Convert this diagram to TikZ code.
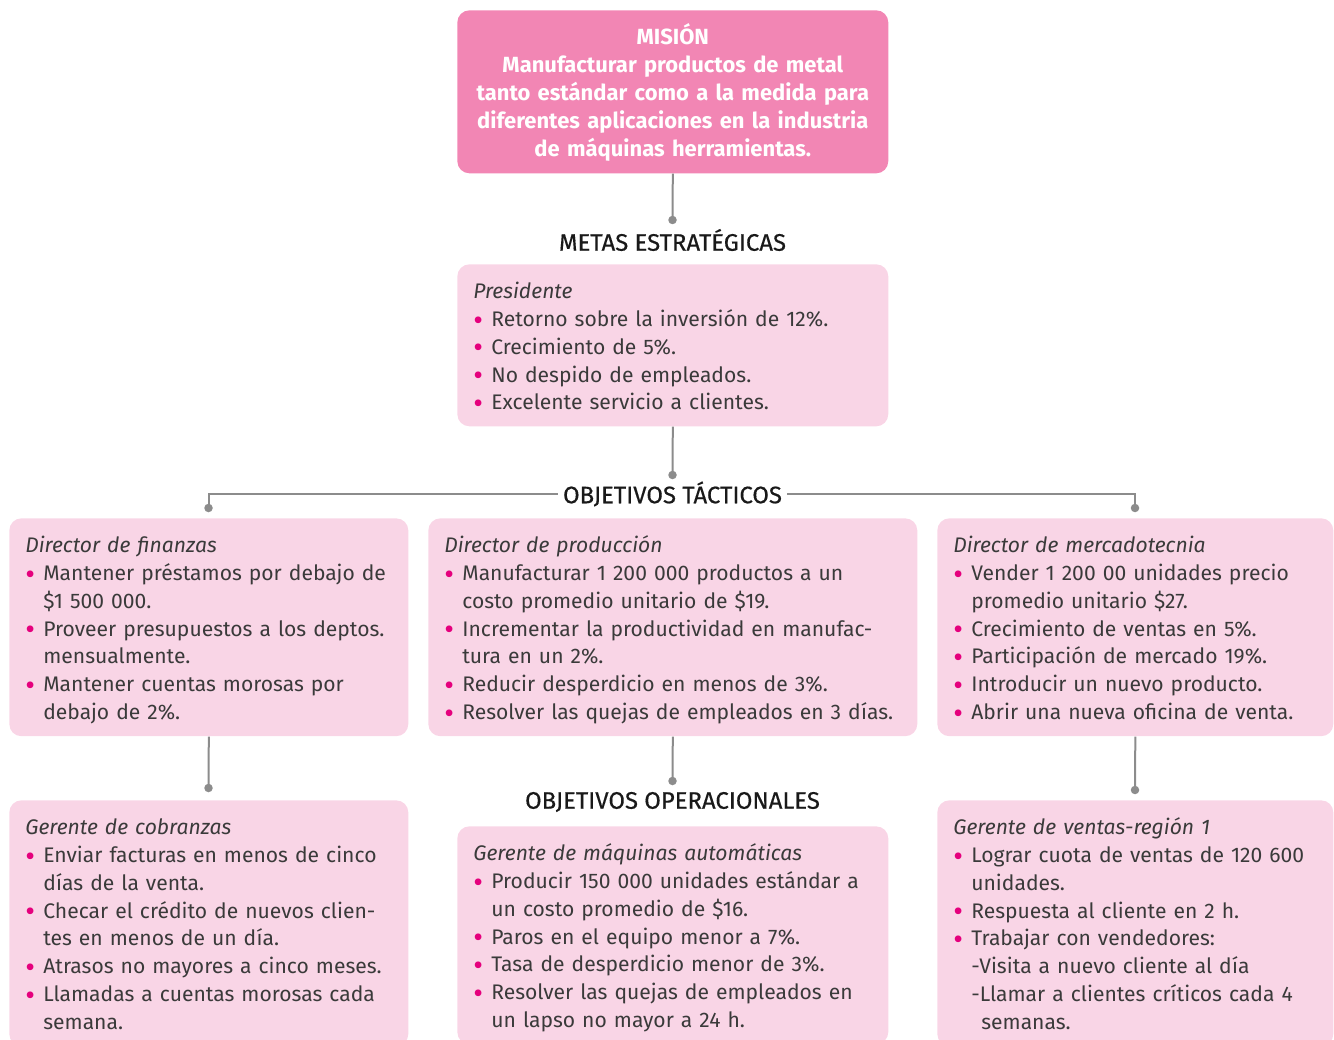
\documentclass[tikz,border=0pt]{standalone}
\usepackage{fontspec}
\setmainfont{Fira Sans}
\newfontfamily\medfont[FakeBold=0.4]{Fira Sans}
\usepackage{xcolor}
\usetikzlibrary{arrows.meta}
\definecolor{misrosa}{HTML}{F286B4}
\definecolor{rosa}{HTML}{F9D5E6}
\definecolor{punto}{HTML}{E5007D}
\definecolor{linea}{HTML}{8C8C8C}
\definecolor{texto}{HTML}{3A3A3A}
\newcommand{\bul}{\makebox[0.36cm][l]{\raisebox{-2.2pt}{\textcolor{punto}{\fontsize{17}{0}\selectfont\textbullet}}}}
\newcommand{\sig}{\hspace*{0.36cm}}
\tikzset{
caja/.style={fill=rosa,rounded corners=0.24cm,anchor=north west,align=left,inner xsep=0.32cm,inner ysep=0.2cm,
  font=\fontsize{12}{15.9}\selectfont,text=texto,execute at begin node=\rule{0pt}{13.6pt},execute at end node=\rule[-3.6pt]{0pt}{0pt}},
mision/.style={caja,fill=misrosa,text=white,align=center,font=\fontsize{12.5}{15.9}\selectfont\bfseries},
etiqueta/.style={font=\fontsize{13.6}{15}\selectfont\medfont,text=black!90,inner xsep=0.1cm},
conexion/.style={draw=linea,line width=0.04cm},
punta/.style={circle,fill=linea,inner sep=0,minimum size=0.17cm}
}
\begin{document}
\begin{tikzpicture}[x=0.02cm,y=-0.02cm]
\useasboundingbox (0,0) rectangle (1334,1040);
\node[mision,text width=7.98cm,minimum height=3.26cm] (mis) at (457,10) {MISIÓN\\Manufacturar productos de metal\\tanto estándar como a la medida para\\diferentes aplicaciones en la industria\\de máquinas herramientas.};
\node[caja,text width=7.98cm] (pres) at (457,264) {\textit{Presidente}\\
\bul Retorno sobre la inversión de 12\%.\\
\bul Crecimiento de 5\%.\\
\bul No despido de empleados.\\
\bul Excelente servicio a clientes.};
\node[caja,text width=7.34cm] (fin) at (9,518) {\textit{Director de finanzas}\\
\bul Mantener préstamos por debajo de\\
\sig \$1 500 000.\\
\bul Proveer presupuestos a los deptos.\\
\sig mensualmente.\\
\bul Mantener cuentas morosas por\\
\sig debajo de 2\%.};
\node[caja,text width=9.14cm] (prod) at (428,518) {\textit{Director de producción}\\
\bul Manufacturar 1 200 000 productos a un\\
\sig costo promedio unitario de \$19.\\
\bul Incrementar la productividad en manufac-\\
\sig tura en un 2\%.\\
\bul Reducir desperdicio en menos de 3\%.\\
\bul Resolver las quejas de empleados en 3 días.};
\node[caja,text width=7.28cm] (merc) at (937,518) {\textit{Director de mercadotecnia}\\
\bul Vender 1 200 00 unidades precio\\
\sig promedio unitario \$27.\\
\bul Crecimiento de ventas en 5\%.\\
\bul Participación de mercado 19\%.\\
\bul Introducir un nuevo producto.\\
\bul Abrir una nueva oficina de venta.};
\node[caja,text width=7.34cm] (cob) at (9,800) {\textit{Gerente de cobranzas}\\
\bul Enviar facturas en menos de cinco\\
\sig días de la venta.\\
\bul Checar el crédito de nuevos clien-\\
\sig tes en menos de un día.\\
\bul Atrasos no mayores a cinco meses.\\
\bul Llamadas a cuentas morosas cada\\
\sig semana.};
\node[caja,text width=7.98cm] (maq) at (457,826) {\textit{Gerente de máquinas automáticas}\\
\bul Producir 150 000 unidades estándar a\\
\sig un costo promedio de \$16.\\
\bul Paros en el equipo menor a 7\%.\\
\bul Tasa de desperdicio menor de 3\%.\\
\bul Resolver las quejas de empleados en\\
\sig un lapso no mayor a 24 h.};
\node[caja,text width=7.28cm] (ven) at (937,800) {\textit{Gerente de ventas-región 1}\\
\bul Lograr cuota de ventas de 120 600\\
\sig unidades.\\
\bul Respuesta al cliente en 2 h.\\
\bul Trabajar con vendedores:\\
\sig -Visita a nuevo cliente al día\\
\sig -Llamar a clientes críticos cada 4\\
\sig\hspace*{0.2cm}semanas.};
\node[etiqueta] (metas) at (672.5,240) {METAS ESTRATÉGICAS};
\node[etiqueta,fill=white] (tac) at (672.5,494) {OBJETIVOS TÁCTICOS};
\node[etiqueta] (oper) at (672.5,802) {OBJETIVOS OPERACIONALES};
\node[punta] (p1) at (672.5,220) {};
\node[punta] (p2) at (672.5,475) {};
\node[punta] (p3) at (208.5,508) {};
\node[punta] (p4) at (1135,508) {};
\node[punta] (p5) at (208.5,788) {};
\node[punta] (p6) at (672.5,781) {};
\node[punta] (p7) at (1135,790) {};
\draw[conexion] (mis.south) -- (p1.center);
\draw[conexion] (pres.south) -- (p2.center);
\draw[conexion] (p3.center) |- (tac.west);
\draw[conexion] (p4.center) |- (tac.east);
\draw[conexion] (fin.south) -- (p5.center);
\draw[conexion] (prod.south) -- (p6.center);
\draw[conexion] (merc.south) -- (p7.center);
\end{tikzpicture}
\end{document}
